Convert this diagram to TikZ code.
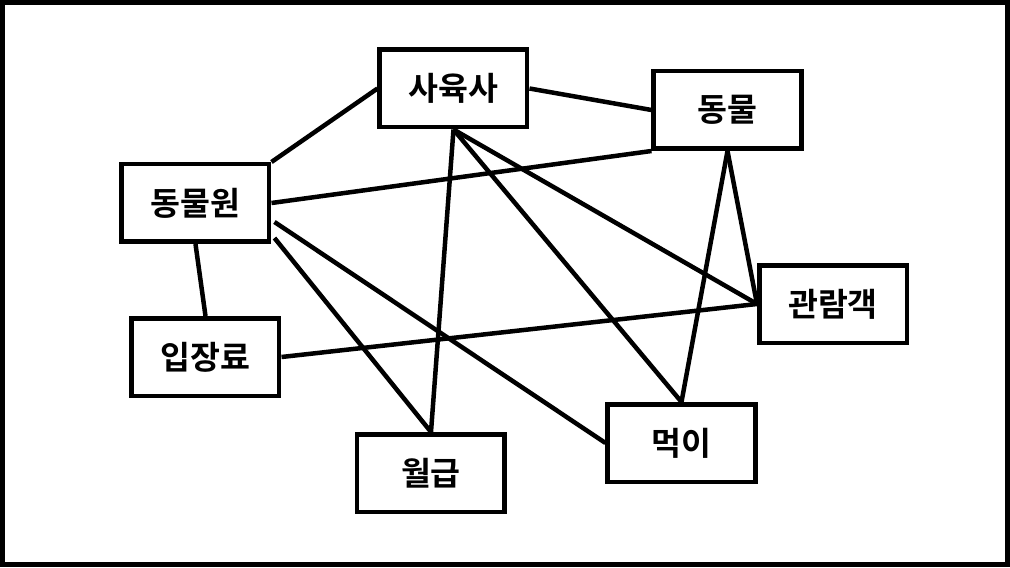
\documentclass[tikz,border=0pt]{standalone}
\usepackage{fontspec}
\setmainfont{Noto Sans CJK KR}[BoldFont={* Bold}]
\usetikzlibrary{positioning}

\begin{document}
\begin{tikzpicture}[
    font=\fontsize{18.5}{21}\selectfont\bfseries,
    ent/.style={
      rectangle, draw, line width=0.09cm, align=center,
      minimum width=2.95cm, minimum height=1.55cm,
      inner sep=1pt, fill=white
    },
    rel/.style={line width=0.09cm}
  ]
    % Outer frame (origin)
    \useasboundingbox (-10.1,-5.67) rectangle (10.1,5.67);
    \node[draw, line width=0.1cm, inner sep=0pt,
      minimum width=20.1cm, minimum height=11.24cm] (frame) at (0,0) {};

    % Entities
    \node[ent] at ([shift={(-1.03, 3.90)}]frame.center) (keeper) {사육사};
    \node[ent] at ([shift={( 4.45, 3.47)}]frame.center) (animal) {동물};
    \node[ent] at ([shift={(-6.19, 1.61)}]frame.center) (zoo) {동물원};
    \node[ent] at ([shift={( 6.56,-0.41)}]frame.center) (visitor) {관람객};
    \node[ent] at ([shift={(-5.99,-1.47)}]frame.center) (fee) {입장료};
    \node[ent] at ([shift={( 3.53,-3.19)}]frame.center) (feed) {먹이};
    \node[ent] at ([shift={(-1.48,-3.79)}]frame.center) (salary) {월급};

    % Relations
    \draw[rel] (zoo.north east) -- (keeper.west);
    \draw[rel] (keeper.east) -- (animal.west);
    \draw[rel] (zoo.east) -- (animal.south west);
    \draw[rel] (zoo.south) -- (fee.north);
    \draw[rel] (fee.east) -- (visitor.west);
    \draw[rel] (keeper.south) -- (salary.north);
    \draw[rel] (keeper.south) -- (feed.north);
    \draw[rel] (keeper.south) -- (visitor.west);
    \draw[rel] (animal.south) -- (visitor.west);
    \draw[rel] (animal.south) -- (feed.north);
    \draw[rel] ([xshift=0.06cm, yshift=-0.38cm]zoo.east) -- (feed.west);
    \draw[rel] ([xshift=0.06cm, yshift=-0.70cm]zoo.east) -- (salary.north);
  \end{tikzpicture}
\end{document}
